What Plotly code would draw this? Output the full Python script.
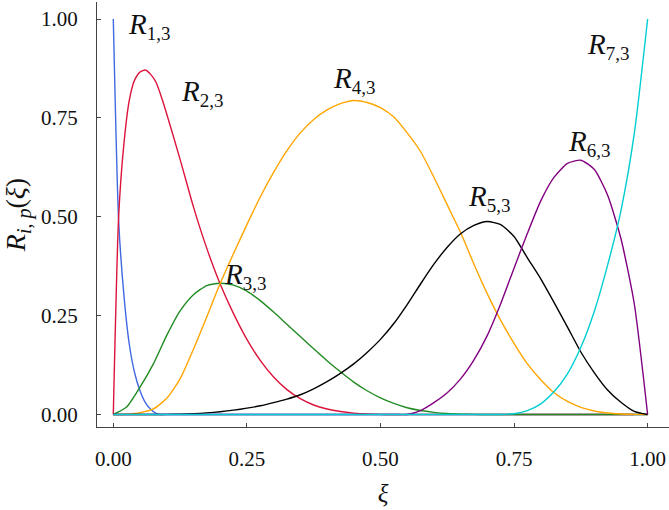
import plotly.graph_objects as go

# Sampling of the parameter: a fine grid near xi = 0 and a regular grid elsewhere
xi_fine = [0, 0.01, 0.02, 0.03, 0.04, 0.05, 0.06, 0.07, 0.08, 0.09, 0.10]
xi_grid = [0, 0.025, 0.05, 0.075, 0.1, 0.125, 0.15, 0.175, 0.2, 0.225, 0.25, 0.275, 0.3,
           0.325, 0.35, 0.375, 0.4, 0.425, 0.45, 0.475, 0.5, 0.525, 0.55, 0.575, 0.6, 0.625,
           0.65, 0.675, 0.7, 0.725, 0.75, 0.775, 0.8, 0.825, 0.85, 0.875, 0.9, 0.925, 0.95,
           0.975, 1.0]

# R_{1,3}: on the fine grid, zero from 0.1 up to 1
xi_r1 = xi_fine + [1.0]
r_1 = [1, 0.49, 0.30, 0.177, 0.105, 0.06, 0.03, 0.013, 0.003, 0, 0, 0]

# R_{2,3}: fine grid up to 0.1, regular grid afterwards
xi_r2 = xi_fine + xi_grid[5:]
r_2 = [0, 0.50, 0.686, 0.795, 0.846, 0.866, 0.871, 0.86, 0.84, 0.803, 0.76,
       0.645, 0.525, 0.42, 0.33, 0.255, 0.19, 0.137, 0.095, 0.063, 0.04, 0.024, 0.014, 0.0075,
       0.0035, 0.0013, 0.0003, 0, 0, 0, 0, 0, 0, 0, 0, 0, 0, 0, 0, 0, 0, 0, 0, 0, 0, 0]

# R_{3,3} ... R_{7,3} on the regular grid
r_3 = [0, 0.019, 0.069, 0.128, 0.2, 0.262, 0.303, 0.326, 0.332, 0.327, 0.312, 0.288, 0.259,
       0.228, 0.197, 0.166, 0.136, 0.108, 0.082, 0.06, 0.042, 0.028, 0.017, 0.01, 0.0055, 0.0025,
       0.001, 0.0003, 0, 0, 0, 0, 0, 0, 0, 0, 0, 0, 0, 0, 0]
r_4 = [0, 0.0007, 0.0045, 0.014, 0.041, 0.09, 0.165, 0.247, 0.331, 0.407, 0.48, 0.55, 0.612,
       0.667, 0.712, 0.746, 0.77, 0.786, 0.794, 0.789, 0.776, 0.752, 0.712, 0.665, 0.6, 0.53,
       0.46, 0.38, 0.305, 0.238, 0.18, 0.128, 0.088, 0.055, 0.033, 0.018, 0.009, 0.004, 0.0012,
       0.0002, 0]
r_5 = [0, 0, 0, 0, 0.0002, 0.001, 0.002, 0.004, 0.007, 0.011, 0.016, 0.022, 0.03,
       0.039, 0.05, 0.065, 0.083, 0.104, 0.128, 0.157, 0.19, 0.23, 0.278, 0.33, 0.38, 0.423,
       0.457, 0.478, 0.488, 0.48, 0.45, 0.396, 0.343, 0.283, 0.221, 0.158, 0.106, 0.062, 0.031,
       0.008, 0]
r_6 = [0, 0, 0, 0, 0, 0, 0, 0, 0, 0, 0, 0, 0,
       0, 0, 0, 0, 0, 0, 0, 0, 0, 0, 0.01, 0.03, 0.055,
       0.09, 0.138, 0.2, 0.28, 0.37, 0.458, 0.54, 0.6, 0.635, 0.643, 0.62, 0.555, 0.445,
       0.28, 0]
r_7 = [0, 0, 0, 0, 0, 0, 0, 0, 0, 0, 0, 0, 0,
       0, 0, 0, 0, 0, 0, 0, 0, 0, 0, 0, 0, 0,
       0, 0, 0, 0, 0.002, 0.01, 0.027, 0.058, 0.103, 0.17, 0.26, 0.377, 0.515,
       0.71, 1.0]

tick_vals = [0, 0.25, 0.5, 0.75, 1.0]
tick_text = ["0.00", "0.25", "0.50", "0.75", "1.00"]

names = ["1,3", "2,3", "3,3", "4,3", "5,3", "6,3", "7,3"]
colors = ["#4169e1", "#dc143c", "#228b22", "#ffa500", "#000000", "#800080", "#00ced1"]
series = [(xi_r1, r_1), (xi_r2, r_2), (xi_grid, r_3), (xi_grid, r_4),
          (xi_grid, r_5), (xi_grid, r_6), (xi_grid, r_7)]

# where each curve name is written (data coordinates)
label_pos = [(0.066, 0.982), (0.166, 0.812), (0.246, 0.35), (0.45, 0.847),
             (0.703, 0.547), (0.89, 0.687), (0.925, 0.931)]

FONT = "Liberation Serif"
SUB = "<sub><span style='font-size:{}px'>{}</span></sub>"

fig = go.Figure()
for (x, y), c, n in zip(series, colors, names):
    fig.add_trace(go.Scatter(x=x, y=y, mode="lines", name="R" + n,
                             line=dict(color=c, width=1.4, shape="spline", smoothing=0.6),
                             hoverinfo="skip"))

for (lx, ly), n in zip(label_pos, names):
    fig.add_annotation(x=lx, y=ly, text="<i>R</i>" + SUB.format(19, n), showarrow=False,
                       font=dict(family=FONT, size=29, color="#111"))

fig.update_layout(
    width=669, height=510,
    margin=dict(l=97, r=0, t=2, b=83),
    paper_bgcolor="white", plot_bgcolor="white",
    showlegend=False,
    font=dict(family=FONT, size=21, color="#111"),
)
axis_style = dict(tickvals=tick_vals, ticktext=tick_text, showgrid=False, zeroline=False,
                  showline=True, linecolor="#444", linewidth=1,
                  ticks="inside", ticklen=4, tickcolor="#444")
fig.update_xaxes(range=[-0.0305, 1.04], ticklabelstandoff=13,
                 title=dict(text="<i>ξ</i>", font=dict(family=FONT, size=25), standoff=14),
                 **axis_style)
fig.update_yaxes(range=[-0.0316, 1.043], ticklabelstandoff=14,
                 title=dict(text="<i>R</i>" + SUB.format(20, "<i>i</i>, <i>p</i>") + "(<i>ξ</i>)",
                            font=dict(family=FONT, size=28), standoff=7),
                 **axis_style)

fig.write_html("out.html")
